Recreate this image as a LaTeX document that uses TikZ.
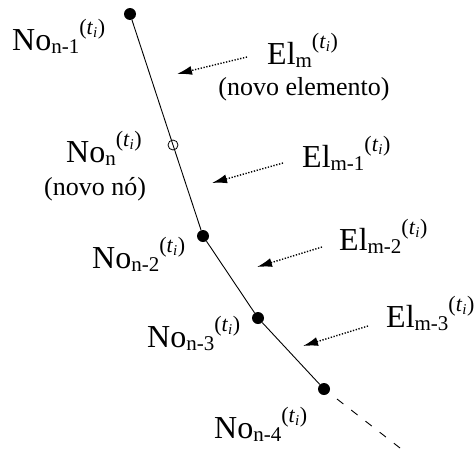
\documentclass[tikz,border=0pt]{standalone}
\usepackage{fontspec}
\setmainfont{Liberation Serif}
\usetikzlibrary{arrows.meta}
\newcommand{\lbl}[2]{#1\raisebox{-3pt}{\fontsize{21}{21}\selectfont #2}\raisebox{16pt}{\fontsize{22}{22}\selectfont(\textit{t}\raisebox{-3pt}{\fontsize{15}{15}\selectfont\textit{i}}\kern0.5pt)}}
\begin{document}
\begin{tikzpicture}[x=1pt,y=-1pt,
  dotnode/.style={circle,fill=black,inner sep=0pt,minimum size=12pt},
  opennode/.style={circle,draw=black,line width=0.8pt,inner sep=0pt,minimum size=10pt},
  mainlbl/.style={anchor=base west,inner sep=0pt,font=\fontsize{32}{36}\selectfont},
  sublbl/.style={anchor=base,inner sep=0pt,font=\fontsize{26}{30}\selectfont},
  pointer/.style={line width=1.4pt,dash pattern=on 1.3pt off 1.6pt,-{Latex[length=15pt,width=9pt]}},
  chain/.style={line width=0.9pt},
  tail/.style={line width=0.9pt,dash pattern=on 8pt off 10pt}]
\useasboundingbox (0,0) rectangle (474,450);
% nodes on the chain
\node[dotnode] (n1) at (130,14) {};
\node[opennode] (n0) at (173,145) {};
\node[dotnode] (n2) at (203,236) {};
\node[dotnode] (n3) at (258,318) {};
\node[dotnode] (n4) at (324,389) {};
\coordinate (end) at (400,448);
\draw[chain] (n1) -- (n0.center) -- (n2) -- (n3) -- (n4);
\draw[tail] (n4) ++(13,10) -- (end);
% labels
\node[mainlbl] (l1) at (12,50) {\lbl{No}{n-1}};
\node[mainlbl] (l0) at (66,162) {\lbl{No}{n}};
\node[sublbl] (l0s) at (95,195) {(novo nó)};
\node[mainlbl] (l2) at (92,268) {\lbl{No}{n-2}};
\node[mainlbl] (l3) at (147,347) {\lbl{No}{n-3}};
\node[mainlbl] (l4) at (214,438) {\lbl{No}{n-4}};
\node[mainlbl] (e1) at (267,64) {\lbl{El}{m}};
\node[sublbl] (e1s) at (304,95) {(novo elemento)};
\node[mainlbl] (e2) at (302,167) {\lbl{El}{m-1}};
\node[mainlbl] (e3) at (339,250) {\lbl{El}{m-2}};
\node[mainlbl] (e4) at (386,327) {\lbl{El}{m-3}};
% pointers
\coordinate (a1s) at (247,57);  \coordinate (a1e) at (177,74);
\coordinate (a2s) at (283,163); \coordinate (a2e) at (212,183);
\coordinate (a3s) at (322,247); \coordinate (a3e) at (257,267);
\coordinate (a4s) at (368,326); \coordinate (a4e) at (303,346);
\draw[pointer] (a1s) -- (a1e);
\draw[pointer] (a2s) -- (a2e);
\draw[pointer] (a3s) -- (a3e);
\draw[pointer] (a4s) -- (a4e);
\end{tikzpicture}
\end{document}
